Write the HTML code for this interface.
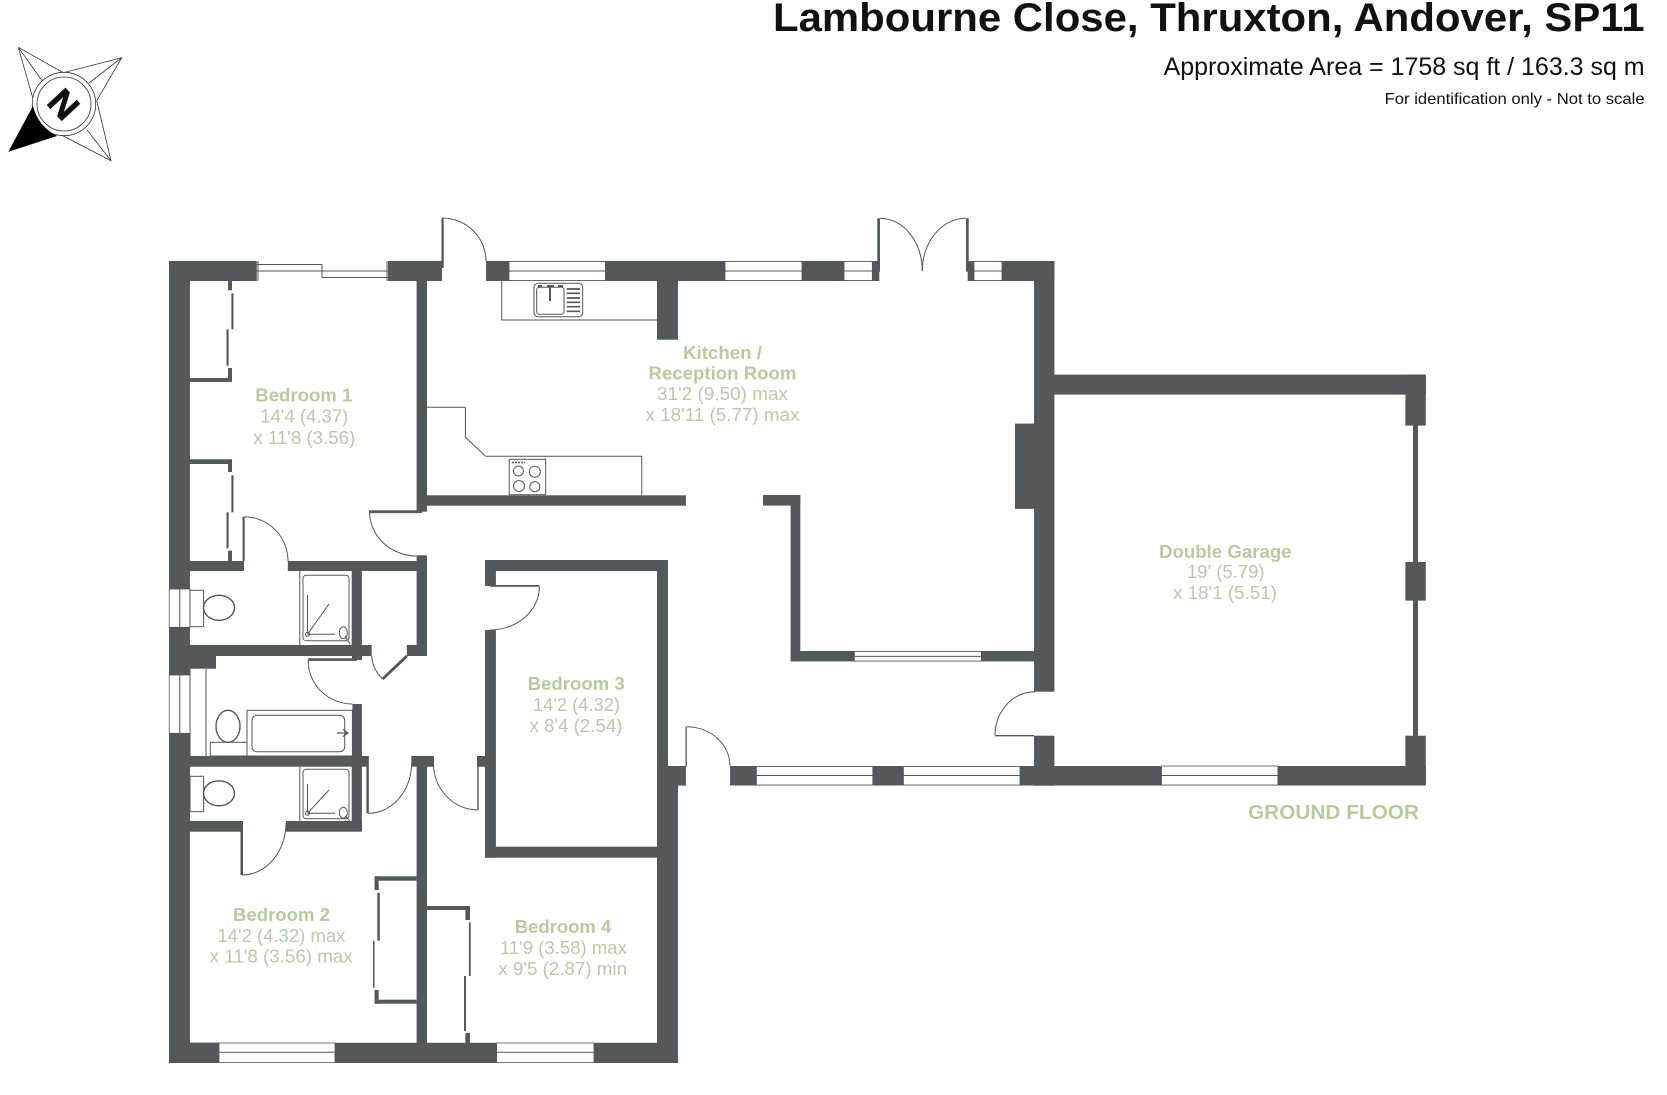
<!DOCTYPE html>
<html><head><meta charset="utf-8"><style>
html,body{margin:0;padding:0;background:#fff;width:1667px;height:1095px;overflow:hidden}
svg{display:block}
.b,.r{font-family:"Liberation Sans",Arial,sans-serif;text-anchor:middle}
.b{font-weight:bold;font-size:18px;fill:#b8cb9f}
.r{font-size:18px;fill:#bcc8aa}
.l{fill:none;stroke:#53585a;stroke-width:1}
.l2{fill:none;stroke:#53585a;stroke-width:1.4}
.w{fill:#fff;stroke:#53585a;stroke-width:.8}
</style></head><body>
<svg xmlns="http://www.w3.org/2000/svg" width="1667" height="1095" viewBox="0 0 1667 1095">
<rect width="1667" height="1095" fill="#fff"/>
<g font-family="Liberation Sans,Arial,sans-serif" fill="#111" text-anchor="end">
<text x="1644.6" y="31" font-size="40" font-weight="bold" textLength="871.6" lengthAdjust="spacingAndGlyphs" text-anchor="start" dx="-871.6">Lambourne Close, Thruxton, Andover, SP11</text>
<text x="1644.6" y="75" font-size="25" textLength="481" lengthAdjust="spacingAndGlyphs" dx="-481" text-anchor="start">Approximate Area = 1758 sq ft / 163.3 sq m</text>
<text x="1644.6" y="104" font-size="16" textLength="260" lengthAdjust="spacingAndGlyphs" dx="-260" text-anchor="start">For identification only - Not to scale</text>
</g>
<!-- compass -->
<g fill="none" stroke="#333" stroke-width=".8">
<path d="M18.3 47.3L63.3 72.7L121.7 57.7L96.7 100.7L111 160.7L63.3 136M18.3 47.3L32.7 97.7M18.3 47.3L43 82M121.7 57.7L89 83M111 160.7L87 130"/>
<circle cx="64" cy="104" r="31.7" fill="#fff"/><circle cx="64" cy="104" r="27"/>
</g>
<path d="M8.3 151.7L33 106Q38 126 57 136Z" fill="#000"/>
<text x="0" y="0" transform="translate(64 104) rotate(47)" font-family="Liberation Sans,Arial,sans-serif" font-weight="bold" font-size="36" fill="#111" stroke="#111" stroke-width=".8" text-anchor="middle" dy="13">N</text>
<!-- walls -->
<g fill="#53585a">
<path d="M169 261H256V281H190V1042.7H219V1063H169Z"/>
<path d="M334.9 1042.7H496.6V1063H334.9Z"/>
<path d="M594 1042.7H678V1063H594Z"/>
<rect x="190" y="1042.7" width="29" height="20.3"/>
<rect x="388" y="261" width="54" height="20"/>
<rect x="441.5" y="218" width="2.2" height="50"/>
<rect x="486" y="261" width="393.3" height="20"/>
<rect x="967.7" y="261" width="86.7" height="20"/>
<rect x="877.3" y="218.3" width="2.7" height="53.4"/>
<rect x="966" y="218.3" width="2.7" height="53.4"/>
<rect x="1034" y="261" width="20.4" height="430.7"/>
<rect x="1034" y="735.7" width="20.4" height="50"/>
<rect x="1015" y="423.6" width="19" height="85.3"/>
<rect x="1054" y="374.6" width="372" height="20"/>
<rect x="1405.4" y="374.6" width="20.4" height="51"/>
<rect x="1413" y="425" width="5" height="311"/>
<rect x="1405.4" y="562" width="20.4" height="38.6"/>
<rect x="1405.4" y="735.7" width="20.4" height="49.8"/>
<rect x="730" y="766" width="696" height="19.5"/>
<rect x="416.6" y="280" width="10.4" height="231.7"/>
<rect x="427" y="495.3" width="259" height="10.4"/>
<rect x="369" y="510.3" width="53" height="2.8"/>
<rect x="657" y="280" width="21" height="59.7"/>
<rect x="763" y="495" width="37.3" height="10.6"/>
<rect x="790.6" y="495" width="9.7" height="166.4"/>
<rect x="790.6" y="651" width="243.4" height="10.4"/>
<rect x="416.6" y="555.3" width="10.4" height="100.7"/>
<rect x="406.8" y="645" width="20.2" height="11"/>
<rect x="287.8" y="561" width="139.2" height="10"/>
<rect x="190" y="561" width="54" height="10"/>
<rect x="351.7" y="571" width="10.2" height="85"/>
<rect x="190" y="645" width="181.7" height="11"/>
<rect x="190" y="656" width="26" height="12.7"/>
<rect x="307.9" y="658.3" width="49" height="2.6"/>
<rect x="352" y="656" width="10" height="4"/>
<rect x="352.4" y="704" width="9.5" height="62.7"/>
<rect x="190" y="756" width="177.5" height="10.7"/>
<rect x="366.4" y="756" width="2.4" height="57.3"/>
<rect x="411.3" y="756" width="22.7" height="10.7"/>
<rect x="416.6" y="766" width="10.4" height="277"/>
<rect x="477.3" y="760" width="1.4" height="50"/>
<rect x="477" y="756" width="8" height="10.7"/>
<rect x="485" y="560" width="10.9" height="26"/>
<rect x="485" y="630" width="10.9" height="227.7"/>
<rect x="485" y="560" width="183" height="11"/>
<rect x="657" y="560" width="11" height="206"/>
<rect x="657" y="766" width="21" height="297"/>
<rect x="668" y="766" width="18" height="19.6"/>
<rect x="685.5" y="726.7" width="1.3" height="40"/>
<rect x="485" y="846.7" width="183" height="11"/>
<rect x="490" y="585" width="49.4" height="1.8"/>
<rect x="190" y="821" width="52" height="10.7"/>
<rect x="240.5" y="821" width="2.5" height="54"/>
<rect x="286" y="821" width="76" height="10.7"/>
<rect x="351.7" y="766" width="10.2" height="65"/>
<rect x="242.6" y="516.7" width="2.1" height="44.3"/>
<!-- wardrobes -->
<rect x="190" y="378" width="42" height="4"/>
<rect x="228" y="280.7" width="4" height="9.6"/>
<rect x="231.4" y="293.3" width="2.1" height="36"/>
<rect x="226.5" y="329.3" width="2.1" height="36.4"/>
<rect x="228" y="368" width="4" height="14"/>
<rect x="190" y="459.3" width="42" height="4.7"/>
<rect x="228" y="459.3" width="4" height="12.7"/>
<rect x="231.4" y="475.3" width="2.1" height="37"/>
<rect x="226.5" y="512.3" width="2.1" height="36"/>
<rect x="228" y="550.7" width="4" height="11"/>
<rect x="374.5" y="876.3" width="42.1" height="4.4"/>
<rect x="374.5" y="876.3" width="4.2" height="13.7"/>
<rect x="377.3" y="892.7" width="2.5" height="48"/>
<rect x="373" y="940.7" width="1.5" height="47"/>
<rect x="374.5" y="990" width="4.2" height="13.7"/>
<rect x="374.5" y="999.7" width="42.1" height="4"/>
<rect x="427" y="906" width="43" height="4"/>
<rect x="465.4" y="906" width="4.6" height="14"/>
<rect x="468.9" y="922.3" width="1.8" height="53.7"/>
<rect x="464" y="976" width="2" height="55"/>
<rect x="465.4" y="1033" width="4.6" height="10"/>
<!-- closet door -->
<path d="M405.8 655L408 657L383.6 680L381.6 678Z"/>
</g>
<!-- windows -->
<g class="w">
<rect class="w" x="509" y="261.5" width="96.4" height="19"/><path class="l" d="M509 271H605"/>
<rect class="w" x="725" y="261.5" width="77" height="19"/><path class="l" d="M725 271H802"/>
<rect class="w" x="844" y="261.5" width="28.3" height="19"/><path class="l" d="M844 271H872"/>
<rect class="w" x="974" y="261.5" width="28" height="19"/><path class="l" d="M974 271H1002"/>
<rect class="w" x="854.4" y="651.5" width="127" height="9.5"/><path class="l" d="M854.4 656.4H981.4"/>
<rect class="w" x="756.4" y="766.5" width="116.4" height="18.5"/><path class="l" d="M756.4 775.5H872.8"/>
<rect class="w" x="903.4" y="766.5" width="116.6" height="18.5"/><path class="l" d="M903.4 775.5H1020"/>
<rect class="w" x="1161.5" y="766" width="116.4" height="19"/><path class="l" d="M1161.5 775.5H1278"/>
<rect class="w" x="219" y="1043" width="116" height="19.5"/><path class="l" d="M219 1052.3H335"/>
<rect class="w" x="496.6" y="1043" width="97.4" height="19.5"/><path class="l" d="M496.6 1052.3H594"/>
<rect class="w" x="169.2" y="589" width="20.8" height="38.3"/><path class="l" d="M179.8 589V627"/>
<rect class="w" x="169.2" y="675" width="20.8" height="58.3"/><path class="l" d="M179.8 675V733"/>
<path class="l" d="M256.3 264.5H322V271H388.5M256.3 271H322V277.5H388.5M256.3 261V281M258 261V281M387 261V281M388.5 261V281"/>
</g>
<!-- door arcs -->
<g class="l">
<path d="M442 218A44 43 0 0 1 486 261"/>
<path d="M880 218.3A42.3 52.4 0 0 1 922.3 270.7"/>
<path d="M966 218.3A43.7 52.4 0 0 0 922.3 270.7"/>
<path d="M1035 691.7A40 43.5 0 0 0 995 735.2"/>
<path class="l2" d="M995 735.7H1034"/>
<path d="M686.5 726.7A43.5 39.3 0 0 1 730 766"/>
<path d="M369.6 511.7A47 44.3 0 0 0 416.6 556"/>
<path d="M244 516.7A44 44.3 0 0 1 288 561"/>
<path d="M371.7 656A35 35 0 0 0 382.6 679"/>
<path d="M308.2 660.7A44.2 43.3 0 0 0 352.4 704"/>
<path d="M368 813.3A43.6 50 0 0 0 411.6 763.3"/>
<path d="M433.4 763.3A44.6 46.7 0 0 0 478 810"/>
<path d="M539.4 586.7A49.4 43.3 0 0 1 490 630"/>
<path d="M242 875A44 52 0 0 0 286 823"/>
<!-- kitchen -->
<path d="M501.7 281V320H657"/>
<path d="M427 407.3H465.4V437.3L485.7 456.3H641.8V495.3"/>
<rect x="509.2" y="459.3" width="36.5" height="35.4"/>
<circle cx="518.4" cy="471" r="5"/><circle cx="534.8" cy="471.7" r="5.5"/><circle cx="519" cy="486" r="5.5"/><circle cx="534.8" cy="486.7" r="5"/>
<path d="M512 462.5H525" stroke-width="1.5" stroke-dasharray="2 1"/>
<rect x="534" y="283.3" width="48.7" height="33.4" rx="4"/>
<rect x="536.7" y="287.3" width="27.3" height="27" rx="2.5"/>
<path d="M550 286.7V301" stroke-width="2"/>
<path d="M538 286H542M547 286H554M558 286H563" stroke-width="2"/>
<path d="M566.7 289H580M566.7 293.3H580M566.7 298H580M566.7 302.3H580M566.7 306.7H580M566.7 311.3H580" stroke-width="1.7"/>
<!-- shower 1 -->
<path d="M299.8 571V645"/>
<rect x="303" y="575.3" width="46" height="65.4" rx="3"/>
<path d="M307.5 595V633M307.5 634.3H335M307.5 634.3L329 604"/>
<circle cx="307.5" cy="634.3" r="2"/>
<ellipse cx="343.3" cy="632.7" rx="4" ry="6"/><path d="M345 636L350 644"/>
<!-- shower 2 -->
<path d="M299.8 766.7V821"/>
<rect x="303" y="769.3" width="46" height="49.4" rx="3"/>
<path d="M307.5 784V812M307.5 813.3H335M307.5 813.3L329 790"/>
<circle cx="307.5" cy="813.3" r="2"/>
<ellipse cx="343.3" cy="812.7" rx="4" ry="5.5"/><path d="M345 816L350 821"/>
<!-- WCs -->
<rect x="190" y="590.3" width="13.6" height="36.4"/>
<ellipse cx="219" cy="607.8" rx="15.5" ry="12.5" stroke-width="1.4"/>
<rect x="190" y="776.3" width="13.6" height="35.4"/>
<ellipse cx="219" cy="793.3" rx="15.5" ry="12.5" stroke-width="1.4"/>
<ellipse cx="228" cy="726.3" rx="12" ry="16" stroke-width="1.4"/>
<rect x="210.3" y="742.3" width="36.7" height="13.7"/>
<!-- bath -->
<path d="M206 668.7V756M190 668.7V756"/>
<rect x="247" y="710.3" width="105.4" height="45.7"/>
<rect x="252" y="715.3" width="92.7" height="36.4" rx="5"/>
<path d="M337 733H347M343 729.5L348 733L343 736.5" stroke-width="1.2"/>
</g>
<!-- labels -->
<g>
<text class="b" x="303.8" y="401.7" textLength="97" lengthAdjust="spacingAndGlyphs">Bedroom 1</text>
<text class="r" x="304.3" y="422.7" textLength="88" lengthAdjust="spacingAndGlyphs">14'4 (4.37)</text>
<text class="r" x="304.3" y="444" textLength="102" lengthAdjust="spacingAndGlyphs">x 11'8 (3.56)</text>
<text class="b" x="722.5" y="359" textLength="79" lengthAdjust="spacingAndGlyphs">Kitchen /</text>
<text class="b" x="722.5" y="379.5" textLength="148" lengthAdjust="spacingAndGlyphs">Reception Room</text>
<text class="r" x="722.5" y="400" textLength="131" lengthAdjust="spacingAndGlyphs">31'2 (9.50) max</text>
<text class="r" x="722.5" y="421" textLength="154" lengthAdjust="spacingAndGlyphs">x 18'11 (5.77) max</text>
<text class="b" x="1225.3" y="558" textLength="132.6" lengthAdjust="spacingAndGlyphs">Double Garage</text>
<text class="r" x="1225.8" y="578" textLength="77.6" lengthAdjust="spacingAndGlyphs">19' (5.79)</text>
<text class="r" x="1225" y="599" textLength="104" lengthAdjust="spacingAndGlyphs">x 18'1 (5.51)</text>
<text class="b" x="1333.5" y="819" style="font-size:20px" textLength="171" lengthAdjust="spacingAndGlyphs">GROUND FLOOR</text>
<text class="b" x="576.2" y="690" textLength="97" lengthAdjust="spacingAndGlyphs">Bedroom 3</text>
<text class="r" x="576.5" y="711" textLength="87" lengthAdjust="spacingAndGlyphs">14'2 (4.32)</text>
<text class="r" x="576" y="732" textLength="93" lengthAdjust="spacingAndGlyphs">x 8'4 (2.54)</text>
<text class="b" x="281.5" y="921" textLength="97" lengthAdjust="spacingAndGlyphs">Bedroom 2</text>
<text class="r" x="281.4" y="942" textLength="128" lengthAdjust="spacingAndGlyphs">14'2 (4.32) max</text>
<text class="r" x="281.2" y="962.7" textLength="143" lengthAdjust="spacingAndGlyphs">x 11'8 (3.56) max</text>
<text class="b" x="563" y="933" textLength="96.5" lengthAdjust="spacingAndGlyphs">Bedroom 4</text>
<text class="r" x="563.4" y="954" textLength="127" lengthAdjust="spacingAndGlyphs">11'9 (3.58) max</text>
<text class="r" x="562.7" y="975" textLength="128.7" lengthAdjust="spacingAndGlyphs">x 9'5 (2.87) min</text>
</g>
</svg>
</body></html>
